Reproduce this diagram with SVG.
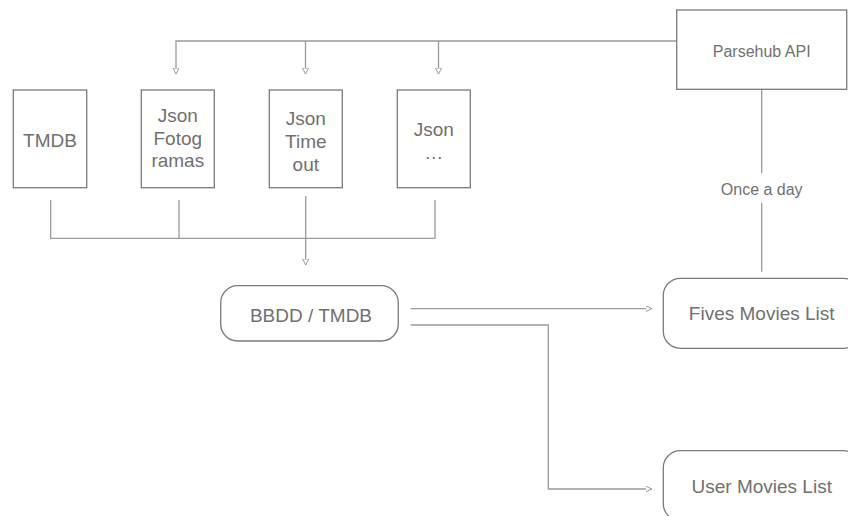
<svg xmlns="http://www.w3.org/2000/svg" width="848" height="516" viewBox="0 0 848 516">
<style>
.box{fill:#fff;stroke:#7a7a7a;stroke-width:1.3}
.ln{fill:none;stroke:#9a9a9a;stroke-width:1.3}
.t{font-family:"Liberation Sans",Arial,sans-serif;font-size:19px;fill:#707070;text-anchor:middle}
.s{font-size:16px}
</style>
<defs>
<marker id="ah" markerWidth="8" markerHeight="8" refX="6" refY="3" orient="auto" markerUnits="userSpaceOnUse">
<path d="M0,0 L6,3 L0,6 Z" fill="#fff" stroke="#9a9a9a" stroke-width="1"/>
</marker>
</defs>
<rect width="848" height="516" fill="#fff"/>
<g id="connectors">
<path class="ln" d="M677,41 H176 V74" marker-end="url(#ah)"/>
<path class="ln" d="M305.5,41 V74" marker-end="url(#ah)"/>
<path class="ln" d="M438.5,41 V74" marker-end="url(#ah)"/>
<path class="ln" d="M50.7,200 V238.3 H435 V200"/>
<path class="ln" d="M179,200 V238.3"/>
<path class="ln" d="M305.7,196 V265" marker-end="url(#ah)"/>
<path class="ln" d="M761.7,89 V173"/>
<path class="ln" d="M761.7,203 V271.7"/>
<path class="ln" d="M410.7,308.7 H651.7" marker-end="url(#ah)"/>
<path class="ln" d="M410.7,325 H548.3 V489 H651.7" marker-end="url(#ah)"/>
<text class="t s" x="761.7" y="194.5">Once a day</text>
</g>
<g id="tmdb">
<rect class="box" x="13.3" y="90" width="73.4" height="97.7"/>
<text class="t" x="50" y="147">TMDB</text>
</g>
<g id="fotogramas">
<rect class="box" x="141.3" y="90" width="73" height="97.7"/>
<text class="t" x="177.8" y="121.7">Json</text>
<text class="t" x="177.8" y="145">Fotog</text>
<text class="t" x="177.8" y="167.3">ramas</text>
</g>
<g id="timeout">
<rect class="box" x="269.3" y="90" width="73" height="97.7"/>
<text class="t" x="305.8" y="125">Json</text>
<text class="t" x="305.8" y="148.3">Time</text>
<text class="t" x="305.8" y="170.7">out</text>
</g>
<g id="jsonmore">
<rect class="box" x="397.3" y="90" width="73" height="97.7"/>
<text class="t" x="433.8" y="136">Json</text>
<text class="t" x="433.8" y="159">…</text>
</g>
<g id="parsehub">
<rect class="box" x="676.7" y="10" width="170" height="79.3"/>
<text class="t s" x="761.7" y="56.5">Parsehub API</text>
</g>
<g id="bbdd">
<rect class="box" x="220.7" y="285.7" width="177.6" height="55.3" rx="17"/>
<text class="t" x="311" y="321.5">BBDD / TMDB</text>
</g>
<g id="fives">
<rect class="box" x="663.3" y="278.3" width="197" height="70" rx="17"/>
<text class="t" x="761.7" y="320">Fives Movies List</text>
</g>
<g id="user">
<rect class="box" x="663.3" y="450.7" width="197" height="70" rx="17"/>
<text class="t" x="761.7" y="493">User Movies List</text>
</g>
</svg>
